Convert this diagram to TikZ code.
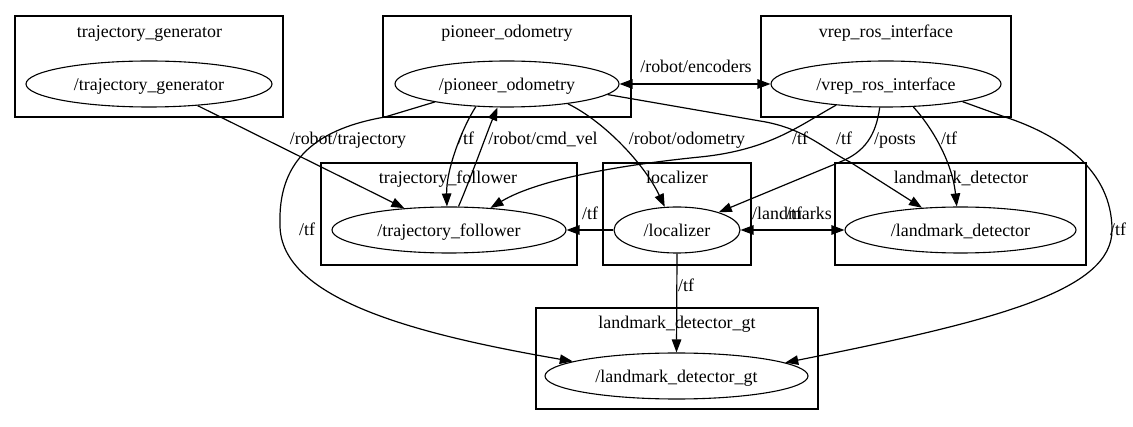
\documentclass[tikz,border=0pt]{standalone}
\usepackage{fontspec}
\setmainfont{Liberation Serif}
\usetikzlibrary{arrows.meta,shapes.geometric}
\begin{document}
\begin{tikzpicture}[x=1pt,y=-1pt, font=\fontsize{17.9}{21}\selectfont,
 cluster/.style={draw, line width=2.6pt, rectangle, inner sep=0pt},
 proc/.style={draw, ellipse, line width=1.1pt, inner sep=0pt, text height=15pt, text depth=2pt},
 clabel/.style={anchor=base, inner sep=0pt},
 elabel/.style={anchor=base, inner sep=0pt},
 edge/.style={draw, line width=1.2pt, -{Triangle[length=13pt,width=9.5pt]}},
 bedge/.style={draw, line width=1.2pt, {Triangle[length=13pt,width=9.5pt]}-{Triangle[length=13pt,width=9.5pt]}},
]
\useasboundingbox (0,0) rectangle (1133,427);
% clusters
\node[cluster, minimum width=268pt, minimum height=101pt] (ctg) at (149,66.5) {};
\node[cluster, minimum width=248pt, minimum height=101pt] (cpo) at (507,66.5) {};
\node[cluster, minimum width=250pt, minimum height=101pt] (cvr) at (886,66.5) {};
\node[cluster, minimum width=256pt, minimum height=102pt] (ctf) at (449,214) {};
\node[cluster, minimum width=148pt, minimum height=102pt] (cloc) at (677,214) {};
\node[cluster, minimum width=251pt, minimum height=102pt] (cld) at (960.5,214) {};
\node[cluster, minimum width=282pt, minimum height=101pt] (cgt) at (677,358.5) {};
% cluster labels
\node[clabel] (ktg) at (149.5,38) {trajectory\_generator};
\node[clabel] (kpo) at (507,38) {pioneer\_odometry};
\node[clabel] (kvr) at (886,38) {vrep\_ros\_interface};
\node[clabel] (ktf) at (448,184) {trajectory\_follower};
\node[clabel] (kloc) at (677,184) {localizer};
\node[clabel] (kld) at (961,184) {landmark\_detector};
\node[clabel] (kgt) at (677,329) {landmark\_detector\_gt};
% processes
\node[proc, minimum width=246pt, minimum height=46pt] (tg) at (149,84) {/trajectory\_generator};
\node[proc, minimum width=224pt, minimum height=46pt] (po) at (507,84) {/pioneer\_odometry};
\node[proc, minimum width=230pt, minimum height=46pt] (vr) at (886,84) {/vrep\_ros\_interface};
\node[proc, minimum width=234pt, minimum height=46pt] (tfw) at (449,230) {/trajectory\_follower};
\node[proc, minimum width=126pt, minimum height=46pt] (loc) at (677,230) {/localizer};
\node[proc, minimum width=231pt, minimum height=46pt] (ld) at (960.5,230) {/landmark\_detector};
\node[proc, minimum width=263pt, minimum height=46pt] (gt) at (676.5,376) {/landmark\_detector\_gt};
% edges
\draw[edge] (tg.-24) -- (tfw.154);
\draw[edge] (po.216) .. controls (462,128) and (446,170) .. (tfw.95);
\draw[edge] (tfw.68) .. controls (470,180) and (488,130) .. (po.248);
\draw[edge] (po.-18) .. controls (605,122) and (645,165) .. (loc.118);
\draw[bedge] (po.east) -- (vr.west);
\draw[edge] (po.-6.5) -- (760,121) .. controls (805,128) and (825,150) .. (850,162) -- (ld.150);
\draw[edge] (vr.203) .. controls (800,125) and (770,150) .. (700,157) .. controls (630,164) and (540,178) .. (tfw.28);
\draw[edge] (vr.255) .. controls (876,135) and (865,152) .. (840,162) -- (loc.23);
\draw[edge] (vr.-40) .. controls (930,125) and (952,160) .. (ld.99);
\draw[edge] (vr.-13) -- (1005,117) .. controls (1060,135) and (1112,170) .. (1112,230) .. controls (1112,290) and (1000,320) .. (gt.7);
\draw[edge] (po.194) -- (385,117) .. controls (310,130) and (278,165) .. (280,225) .. controls (280,300) and (420,335) .. (gt.172);
\draw[edge] (loc.west) -- (tfw.east);
\draw[bedge] (loc.east) -- (ld.west);
\draw[edge] (loc.south) -- (gt.north);
% edge labels
\node[elabel] (l1) at (348,145) {/robot/trajectory};
\node[elabel] (l2) at (466,145) {/tf};
\node[elabel] (l3) at (543,145) {/robot/cmd\_vel};
\node[elabel] (l4) at (687,145) {/robot/odometry};
\node[elabel] (l5) at (696,73) {/robot/encoders};
\node[elabel] (l6) at (800,145) {/tf};
\node[elabel] (l7) at (844,145) {/tf};
\node[elabel] (l8) at (895,145) {/posts};
\node[elabel] (l9) at (949,145) {/tf};
\node[elabel] (l10) at (307,236) {/tf};
\node[elabel] (l11) at (1118,236) {/tf};
\node[elabel] (l12) at (590,220) {/tf};
\node[elabel] (l13) at (792,220) {/landmarks};
\node[elabel] (l14) at (794,220) {/tf};
\node[elabel] (l15) at (686,292) {/tf};
\end{tikzpicture}
\end{document}
